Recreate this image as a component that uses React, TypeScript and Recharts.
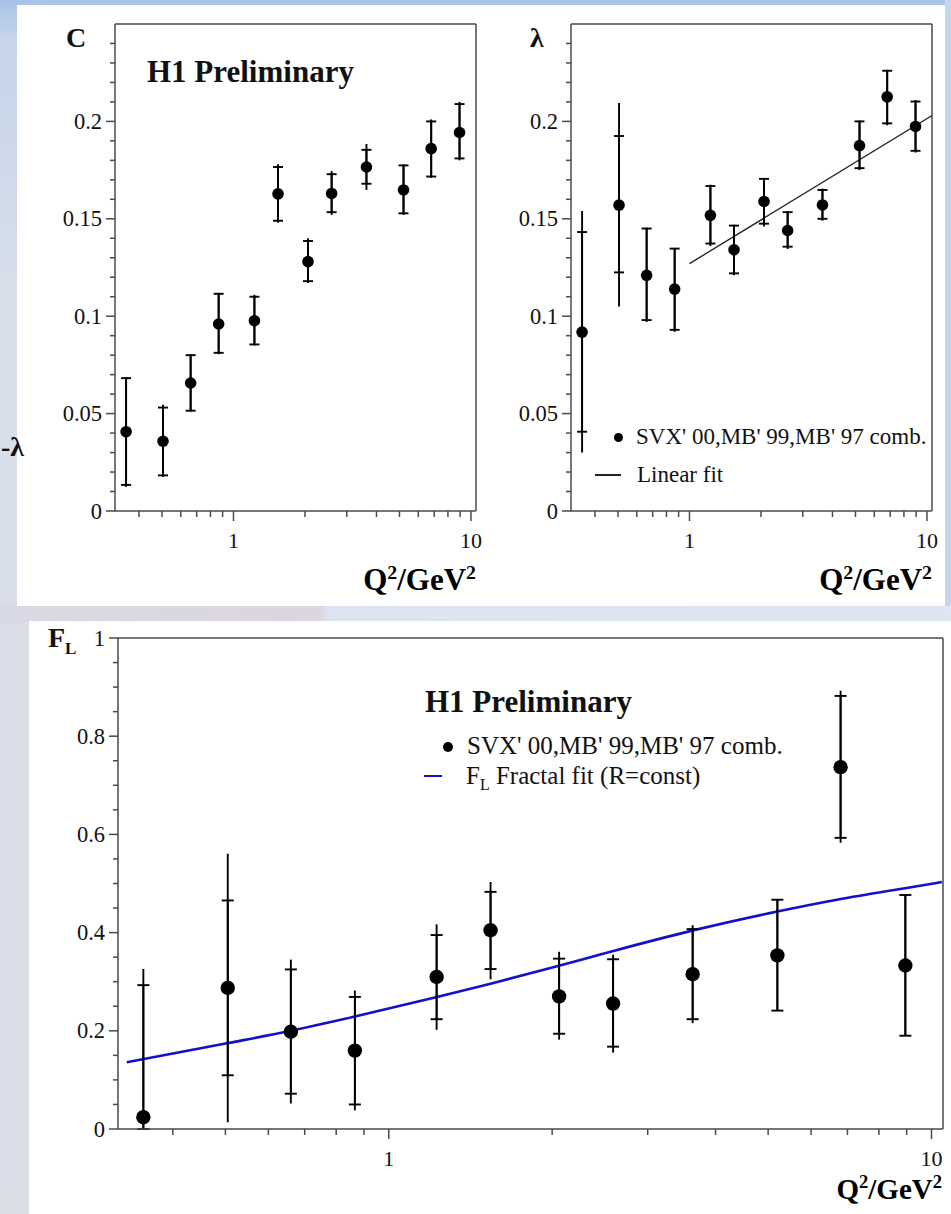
import React from 'react';
import {
  ComposedChart,
  Scatter,
  Line,
  XAxis,
  YAxis,
  ErrorBar,
  ReferenceLine,
} from 'recharts';

// Q^2 bins (GeV^2), shared by all three panels
const Q2 = [0.353, 0.505, 0.66, 0.866, 1.225, 1.54, 2.06, 2.59, 3.63, 5.2, 6.8, 8.95];

// C panel
const C_VAL = [0.0407, 0.0358, 0.0657, 0.096, 0.0977, 0.1628, 0.128, 0.163, 0.1766, 0.1648, 0.186, 0.1943];
const C_STAT_LO = [0.0134, 0.0183, 0.0515, 0.0812, 0.0855, 0.149, 0.118, 0.1534, 0.168, 0.1528, 0.1717, 0.181];
const C_STAT_HI = [0.0682, 0.0531, 0.08, 0.1115, 0.11, 0.1766, 0.1386, 0.1729, 0.1854, 0.1774, 0.2, 0.2089];
const C_TOT_LO = [0.0124, 0.0175, 0.051, 0.0805, 0.085, 0.148, 0.117, 0.152, 0.1648, 0.152, 0.171, 0.18];
const C_TOT_HI = [0.0688, 0.0545, 0.0805, 0.112, 0.111, 0.178, 0.14, 0.1745, 0.1884, 0.178, 0.201, 0.21];

// lambda panel
const L_VAL = [0.0918, 0.157, 0.121, 0.1139, 0.1518, 0.1341, 0.1589, 0.144, 0.1571, 0.1876, 0.2126, 0.1974];
const L_STAT_LO = [0.0407, 0.1225, 0.098, 0.093, 0.1373, 0.122, 0.1475, 0.1357, 0.15, 0.176, 0.199, 0.1849];
const L_STAT_HI = [0.1432, 0.1925, 0.145, 0.1347, 0.1668, 0.1465, 0.1705, 0.1534, 0.1648, 0.2, 0.226, 0.2102];
const L_TOT_LO = [0.03, 0.105, 0.097, 0.092, 0.136, 0.121, 0.146, 0.1345, 0.149, 0.175, 0.198, 0.184];
const L_TOT_HI = [0.154, 0.2094, 0.1455, 0.135, 0.1675, 0.147, 0.171, 0.154, 0.1655, 0.2005, 0.2265, 0.211];
const L_FIT_Q2 = [1.0, 10.5];
const L_FIT = [0.127, 0.203];

// F_L panel
const F_VAL = [0.024, 0.2874, 0.198, 0.1597, 0.3098, 0.4048, 0.27, 0.2555, 0.3154, 0.3537, 0.737, 0.333];
const F_STAT_LO = [0, 0.1094, 0.0719, 0.05, 0.2236, 0.3257, 0.194, 0.1677, 0.2236, 0.2411, 0.593, 0.19];
const F_STAT_HI = [0.293, 0.4655, 0.325, 0.269, 0.395, 0.483, 0.347, 0.3457, 0.4072, 0.467, 0.882, 0.4766];
const F_TOT_LO = [0, 0.0136, 0.052, 0.038, 0.202, 0.305, 0.182, 0.1557, 0.2156, 0.2411, 0.583, 0.19];
const F_TOT_HI = [0.326, 0.5605, 0.345, 0.282, 0.4168, 0.503, 0.361, 0.355, 0.415, 0.467, 0.8926, 0.4766];
const F_FIT_Q2 = [0.329, 0.506, 0.66, 0.866, 1.227, 1.54, 2.05, 2.58, 3.62, 5.2, 6.77, 8.88, 10.45];
const F_FIT = [0.136, 0.175, 0.2, 0.229, 0.269, 0.296, 0.332, 0.362, 0.404, 0.443, 0.468, 0.49, 0.503];

// axes
const X_DOMAIN: [number, number] = [0.317, 10.5];
const X_TICKS = [0.4, 0.5, 0.6, 0.7, 0.8, 0.9, 1, 2, 3, 4, 5, 6, 7, 8, 9, 10];
const X_LABELS = [1, 10];
const Y_TICKS_SMALL = Array.from({ length: 25 }, (_, i) => i / 100);
const Y_LABELS_SMALL = [0, 0.05, 0.1, 0.15, 0.2];
const Y_TICKS_FL = Array.from({ length: 21 }, (_, i) => i / 20);
const Y_LABELS_FL = [0, 0.2, 0.4, 0.6, 0.8, 1];

const SERIF = '"Liberation Serif", "Times New Roman", serif';
const FRAME = '#4a4a4a';
const LEGEND_TEXT = "SVX' 00,MB' 99,MB' 97 comb.";

type Row = { q2: number; v: number; stat: [number, number]; tot: [number, number] };

function buildRows(val: number[], sLo: number[], sHi: number[], tLo: number[], tHi: number[]): Row[] {
  return Q2.map((q, i) => ({
    q2: q,
    v: val[i],
    stat: [val[i] - sLo[i], sHi[i] - val[i]],
    tot: [val[i] - tLo[i], tHi[i] - val[i]],
  }));
}

const near = (a: number, list: number[]) => list.some((b) => Math.abs(a - b) < 1e-6);

function XTick(props: any) {
  const { x, y, payload } = props;
  const major = near(payload.value, X_LABELS);
  return (
    <g>
      <line x1={x} y1={y} x2={x} y2={y + (major ? 10 : 6)} stroke={FRAME} strokeWidth={1.5} />
      {major && (
        <text x={x} y={y + 29} textAnchor="middle" dominantBaseline="central" fontFamily={SERIF} fontSize={22} fill="#111">
          {payload.value}
        </text>
      )}
    </g>
  );
}

function makeYTick(labels: number[]) {
  return function YTick(props: any) {
    const { x, y, payload } = props;
    const major = near(payload.value, labels);
    return (
      <g>
        <line x1={x - (major ? 9 : 5)} y1={y} x2={x} y2={y} stroke={FRAME} strokeWidth={1.5} />
        {major && (
          <text x={x - 13} y={y} textAnchor="end" dominantBaseline="central" fontFamily={SERIF} fontSize={22.5} fill="#111">
            {String(Number(payload.value.toFixed(2)))}
          </text>
        )}
      </g>
    );
  };
}

const YTickSmall = makeYTick(Y_LABELS_SMALL);
const YTickFL = makeYTick(Y_LABELS_FL);

type PanelProps = {
  rows: Row[];
  fitQ2?: number[];
  fitVal?: number[];
  fitColor?: string;
  fitWidth?: number;
  yMax: number;
  yTicks: number[];
  yTick: any;
  width: number;
  height: number;
  xAxisHeight: number;
  right: number;
  dotR: number;
  cap: number;
};

function Panel(p: PanelProps) {
  const fit = p.fitQ2 ? p.fitQ2.map((q, i) => ({ q2: q, v: p.fitVal![i] })) : null;
  return (
    <ComposedChart width={p.width} height={p.height} margin={{ top: 14, right: p.right, bottom: 0, left: 0 }}>
      <XAxis
        type="number"
        dataKey="q2"
        scale="log"
        domain={X_DOMAIN}
        allowDataOverflow
        ticks={X_TICKS}
        interval={0}
        tickSize={0}
        tickMargin={0}
        tickLine={false}
        tick={<XTick />}
        height={p.xAxisHeight}
        axisLine={{ stroke: FRAME, strokeWidth: 1.5 }}
      />
      <YAxis
        type="number"
        dataKey="v"
        domain={[0, p.yMax]}
        allowDataOverflow
        ticks={p.yTicks}
        interval={0}
        tickSize={0}
        tickMargin={0}
        tickLine={false}
        tick={p.yTick}
        width={60}
        axisLine={{ stroke: FRAME, strokeWidth: 1.5 }}
      />
      <ReferenceLine y={p.yMax} stroke={FRAME} strokeWidth={1.5} />
      <ReferenceLine x={X_DOMAIN[1]} stroke={FRAME} strokeWidth={1.5} />
      {fit && (
        <Line
          data={fit}
          dataKey="v"
          type="monotone"
          stroke={p.fitColor}
          strokeWidth={p.fitWidth}
          dot={false}
          activeDot={false}
          isAnimationActive={false}
        />
      )}
      <Scatter
        data={p.rows}
        isAnimationActive={false}
        shape={(s: any) => <circle cx={s.cx} cy={s.cy} r={p.dotR} fill="#000" />}
      >
        <ErrorBar dataKey="tot" direction="y" width={0} stroke="#000" strokeWidth={1.9} isAnimationActive={false} />
        <ErrorBar dataKey="stat" direction="y" width={p.cap} stroke="#000" strokeWidth={1.9} isAnimationActive={false} />
      </Scatter>
    </ComposedChart>
  );
}

const abs = (left: number, top: number): React.CSSProperties => ({ position: 'absolute', left, top });

function Q2Label({ right, top, size }: { right: number; top: number; size: number }) {
  return (
    <div style={{ position: 'absolute', right, top, fontFamily: SERIF, fontWeight: 'bold', fontSize: size, lineHeight: '32px', whiteSpace: 'nowrap' }}>
      Q<sup style={{ fontSize: size * 0.64 }}>2</sup>/GeV<sup style={{ fontSize: size * 0.64 }}>2</sup>
    </div>
  );
}

export default function App() {
  const cRows = buildRows(C_VAL, C_STAT_LO, C_STAT_HI, C_TOT_LO, C_TOT_HI);
  const lRows = buildRows(L_VAL, L_STAT_LO, L_STAT_HI, L_TOT_LO, L_TOT_HI);
  const fRows = buildRows(F_VAL, F_STAT_LO, F_STAT_HI, F_TOT_LO, F_TOT_HI);

  const text: React.CSSProperties = { fontFamily: SERIF, color: '#111', whiteSpace: 'nowrap' };

  return (
    <div
      style={{
        position: 'absolute',
        left: 0,
        top: 0,
        width: 951,
        height: 1214,
        overflow: 'hidden',
        background: 'linear-gradient(180deg, #a8c3e7 0px, #c6d5ea 40px, #d8dfea 300px, #dbdde7 1214px)',
      }}
    >
      {/* band between the two plot areas */}
      <div style={{ ...abs(0, 604), width: 951, height: 19, background: 'linear-gradient(90deg, #d7d9e4 0px, #ddd5df 320px, #dce6f3 330px, #dde7f4 951px)' }} />
      <div style={{ ...abs(945, 0), width: 6, height: 606, background: '#c4d6ee' }} />

      {/* white sheets */}
      <div style={{ ...abs(17, 5), width: 928, height: 601, background: '#fff' }} />
      <div style={{ ...abs(29, 621), width: 922, height: 593, background: '#fff' }} />

      <div style={{ ...abs(1, 430), ...text, fontSize: 28, fontWeight: 'bold', lineHeight: '34px' }}>-λ</div>

      {/* C */}
      <div style={abs(55, 10)}>
        <Panel rows={cRows} yMax={0.25} yTicks={Y_TICKS_SMALL} yTick={<YTickSmall />} width={430} height={570} xAxisHeight={69} right={9} dotR={5.8} cap={5} />
      </div>
      <div style={{ ...abs(66, 21), ...text, fontSize: 28, fontWeight: 'bold', lineHeight: '34px' }}>C</div>
      <div style={{ ...abs(147, 55), ...text, fontSize: 31, fontWeight: 'bold', lineHeight: '34px' }}>H1 Preliminary</div>
      <Q2Label right={951 - 476} top={556} size={31} />

      {/* lambda */}
      <div style={abs(511, 10)}>
        <Panel
          rows={lRows}
          fitQ2={L_FIT_Q2}
          fitVal={L_FIT}
          fitColor="#222"
          fitWidth={1.3}
          yMax={0.25}
          yTicks={Y_TICKS_SMALL}
          yTick={<YTickSmall />}
          width={430}
          height={570}
          xAxisHeight={69}
          right={9}
          dotR={5.8}
          cap={5}
        />
      </div>
      <div style={{ ...abs(530, 21), ...text, fontSize: 28, fontWeight: 'bold', lineHeight: '34px' }}>λ</div>
      <div style={{ ...abs(595, 422), ...text, fontSize: 23, lineHeight: '30px' }}>
        <span style={{ display: 'inline-block', width: 9, height: 9, borderRadius: 5, background: '#000', margin: '0 13px 2px 19px' }} />
        {LEGEND_TEXT}
      </div>
      <div style={{ ...abs(595, 460), ...text, fontSize: 23, lineHeight: '30px' }}>
        <span style={{ display: 'inline-block', width: 26, height: 2, background: '#222', margin: '0 16px 6px 0' }} />
        Linear fit
      </div>
      <Q2Label right={951 - 932} top={556} size={31} />

      {/* F_L */}
      <div style={abs(58, 624)}>
        <Panel
          rows={fRows}
          fitQ2={F_FIT_Q2}
          fitVal={F_FIT}
          fitColor="#1010d0"
          fitWidth={2.6}
          yMax={1}
          yTicks={Y_TICKS_FL}
          yTick={<YTickFL />}
          width={893}
          height={585}
          xAxisHeight={80}
          right={8}
          dotR={7.2}
          cap={6}
        />
      </div>
      <div style={{ ...abs(48, 621), ...text, fontSize: 28, fontWeight: 'bold', lineHeight: '34px' }}>
        F<sub style={{ fontSize: 17 }}>L</sub>
      </div>
      <div style={{ ...abs(425, 685), ...text, fontSize: 31, fontWeight: 'bold', lineHeight: '34px' }}>H1 Preliminary</div>
      <div style={{ ...abs(424, 731), ...text, fontSize: 25, lineHeight: '30px' }}>
        <span style={{ display: 'inline-block', width: 10, height: 10, borderRadius: 5, background: '#000', margin: '0 14px 2px 19px' }} />
        {LEGEND_TEXT}
      </div>
      <div style={{ ...abs(424, 761), ...text, fontSize: 25, lineHeight: '30px' }}>
        <span style={{ display: 'inline-block', width: 18, height: 2.5, background: '#1010d0', margin: '0 24px 7px 0' }} />
        F<sub style={{ fontSize: 16 }}>L</sub> Fractal fit (R=const)
      </div>
      <Q2Label right={951 - 942} top={1166} size={29} />
    </div>
  );
}
